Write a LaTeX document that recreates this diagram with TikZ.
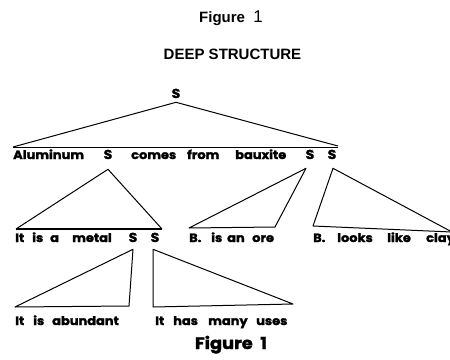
\documentclass[tikz,border=0pt]{standalone}
\usepackage{fontspec}
\setmainfont{Liberation Sans}
\newfontfamily\treefont{Poppins}[BoldFeatures={FakeBold=1.8,FakeStretch=1.08}]
\begin{document}
\begin{tikzpicture}[x=1pt,y=-1pt,
  lbl/.style={inner sep=0pt,anchor=base west,font=\treefont\bfseries\fontsize{12}{13}\selectfont},
  snode/.style={inner sep=0pt,anchor=base,font=\treefont\bfseries\fontsize{13}{14}\selectfont},
  edge/.style={line width=1pt,line join=round},
  basel/.style={line width=1.7pt}]
\useasboundingbox (0,0) rectangle (450,359);

% titles
\node[inner sep=0pt,anchor=base] (fig) at (231,22)
  {\fontsize{15}{16}\selectfont\bfseries Figure\ \ \mdseries\fontsize{17}{18}\selectfont 1};
\node[inner sep=0pt,anchor=base] (deep) at (232.5,59)
  {\fontsize{15}{16}\selectfont\bfseries DEEP STRUCTURE};

% root
\node[snode] (s0) at (176,98) {S};

% first row
\node[lbl] (alu) at (13,159) {Aluminum};
\node[snode] (s1) at (108,159) {S};
\node[lbl] (comes) at (131,159) {comes};
\node[lbl] (from) at (187,159) {from};
\node[lbl] (baux) at (235,159) {bauxite};
\node[snode] (s2) at (310,159) {S};
\node[snode] (s3) at (332,159) {S};

% second row
\node[lbl] (it1) at (15,242) {It};
\node[lbl] (is1) at (32,242) {is};
\node[lbl] (a1) at (50,242) {a};
\node[lbl] (metal) at (72,242) {metal};
\node[snode] (s4) at (133,242) {S};
\node[snode] (s5) at (155,242) {S};
\node[lbl] (b1) at (189,242) {B.};
\node[lbl] (is2) at (211,242) {is};
\node[lbl] (an) at (227,242) {an};
\node[lbl] (ore) at (252,242) {ore};
\node[lbl] (b2) at (313,242) {B.};
\node[lbl] (looks) at (337,242) {looks};
\node[lbl] (like) at (387,242) {like};
\node[lbl] (clay) at (426,242) {clay};

% third row
\node[lbl] (it2) at (15,325) {It};
\node[lbl] (is3) at (33,325) {is};
\node[lbl] (abund) at (52,325) {abundant};
\node[lbl] (it3) at (155,325) {It};
\node[lbl] (has) at (173,325) {has};
\node[lbl] (many) at (208,325) {many};
\node[lbl] (uses) at (256,325) {uses};

\node[inner sep=0pt,anchor=base] (fig2) at (231,349)
  {\treefont\bfseries\fontsize{16.5}{17}\selectfont Figure\ \ 1};

% base corners of the triangles
\coordinate (t0l) at (13,147);  \coordinate (t0r) at (338,146);
\coordinate (t1l) at (16,229);  \coordinate (t1r) at (162,229);
\coordinate (t2l) at (189,228); \coordinate (t2r) at (275,227);
\coordinate (t3l) at (313,226); \coordinate (t3r) at (452,232);
\coordinate (t4l) at (15,307);  \coordinate (t4r) at (129,306);
\coordinate (t5l) at (153,307); \coordinate (t5r) at (293,304);

% top triangle
\draw[edge] (t0l) -- ([yshift=-4pt]s0.south) -- (t0r);
\draw[basel] (13,147.5) -- (338,147.5);

% second level
\draw[edge] (t1l) -- ([yshift=-10pt]s1.south) -- (t1r);
\draw[basel] (t1l) -- (t1r);
\draw[edge] (t2l) -- ([yshift=-9pt,xshift=-4pt]s2.south) -- (t2r) -- cycle;
\draw[edge] (t3l) -- ([yshift=-9pt,xshift=1pt]s3.south) -- (t3r);
\draw[edge] (t3l) -- (t3r);

% third level
\draw[edge] (t4l) -- ([yshift=-7pt]s4.south) -- (t4r) -- cycle;
\draw[edge] ([yshift=-7pt,xshift=-2pt]s5.south) -- (t5l) -- (t5r) -- cycle;
\end{tikzpicture}
\end{document}
